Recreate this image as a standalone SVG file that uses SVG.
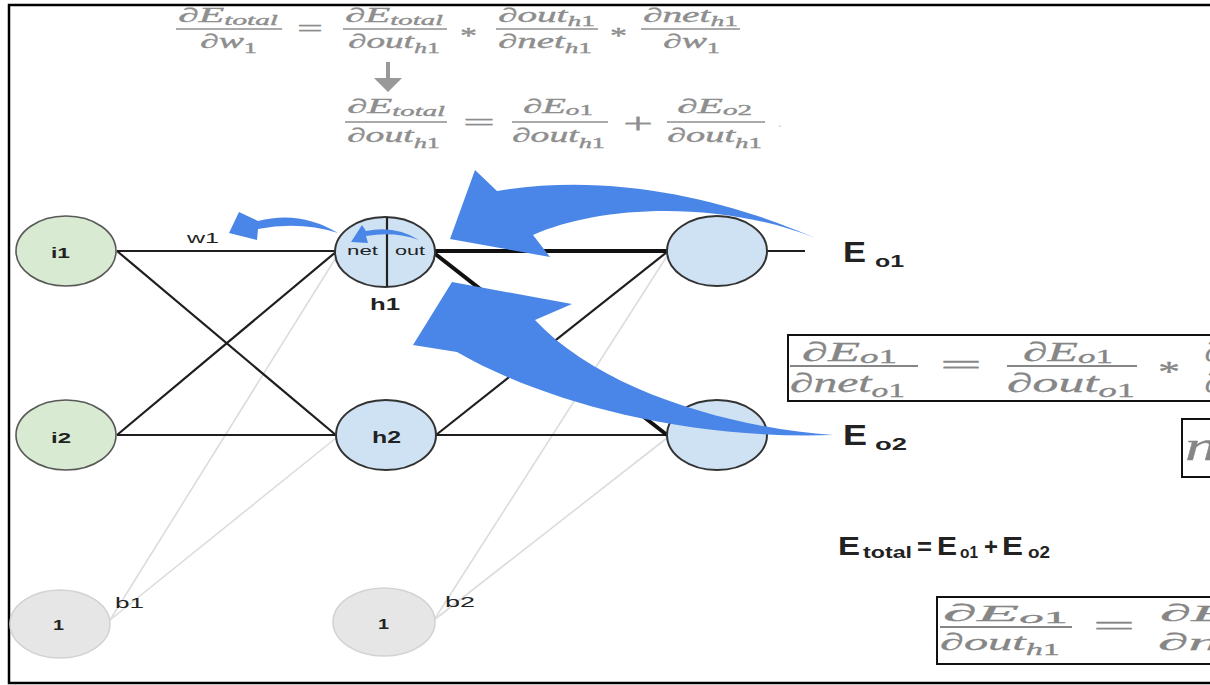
<svg xmlns="http://www.w3.org/2000/svg" width="1210" height="685" viewBox="0 0 1210 685">
  <style>
    .lbl { font-family: "Liberation Sans", Arial, sans-serif; fill: #222; }
    .b { font-weight: bold; }
    .m { font-family: "Liberation Serif", "Times New Roman", serif; font-style: italic; fill: #8e8e8e; stroke: #8e8e8e; stroke-width: 0.35; }
    .mb { font-family: "Liberation Serif", "Times New Roman", serif; font-style: italic; fill: #868686; stroke: #868686; stroke-width: 0.3; }
    .up { font-style: normal; }
    .bar { stroke: #8e8e8e; stroke-width: 1.6; }
    .barb { stroke: #868686; stroke-width: 1.8; }
    .edge { stroke: #1e1e1e; stroke-width: 2.2; fill: none; }
    .thick { stroke: #111; stroke-width: 4; fill: none; }
    .bias { stroke: #dcdcdc; stroke-width: 1.6; fill: none; }
    .inp { fill: #d9ead3; stroke: #595959; stroke-width: 1.6; }
    .hid { fill: #cfe2f3; stroke: #333; stroke-width: 2; }
    .one { fill: #e6e6e6; stroke: #d2d2d2; stroke-width: 1.5; }
    .blue { fill: #4a86e8; }
    .box { fill: none; stroke: #111; stroke-width: 2; }
  </style>

  <!-- outer frame -->
  <rect x="9" y="5" width="1230" height="678" fill="#fff" stroke="#000" stroke-width="2.5"/>

  <!-- connectors -->
  <g id="connectors">
    <line class="bias" x1="110" y1="620" x2="337" y2="256"/>
    <line class="bias" x1="110" y1="620" x2="336" y2="438"/>
    <line class="bias" x1="434" y1="620" x2="667" y2="256"/>
    <line class="bias" x1="434" y1="620" x2="667" y2="438"/>
    <line class="edge" x1="117" y1="251" x2="336" y2="251"/>
    <line class="edge" x1="117" y1="251" x2="337" y2="436"/>
    <line class="edge" x1="117" y1="435" x2="337" y2="251"/>
    <line class="edge" x1="117" y1="435" x2="336" y2="435"/>
    <line class="edge" x1="436" y1="435" x2="667" y2="252"/>
    <line class="edge" x1="436" y1="435" x2="667" y2="435"/>
    <line class="thick" x1="434" y1="251" x2="667" y2="251"/>
    <line class="thick" x1="434" y1="253" x2="667" y2="435"/>
    <line class="edge" x1="767" y1="251" x2="805" y2="251"/>
  </g>

  <!-- nodes -->
  <g id="node-i1">
    <ellipse class="inp" cx="66" cy="251" rx="50" ry="35"/>
    <text class="lbl b" x="51" y="258" font-size="15" textLength="19" lengthAdjust="spacingAndGlyphs">i1</text>
  </g>
  <g id="node-i2">
    <ellipse class="inp" cx="66" cy="435" rx="50" ry="35"/>
    <text class="lbl b" x="51" y="443" font-size="15" textLength="20" lengthAdjust="spacingAndGlyphs">i2</text>
  </g>
  <g id="node-h1">
    <ellipse class="hid" cx="385" cy="252" rx="50" ry="35"/>
    <line x1="387" y1="217" x2="387" y2="287" stroke="#222" stroke-width="2.2"/>
    <text class="lbl" x="347" y="255" font-size="12" fill="#333" textLength="31" lengthAdjust="spacingAndGlyphs">net</text>
    <text class="lbl" x="395" y="255" font-size="12" fill="#333" textLength="30" lengthAdjust="spacingAndGlyphs">out</text>
    <text class="lbl b" x="370" y="310" font-size="16" textLength="30" lengthAdjust="spacingAndGlyphs">h1</text>
  </g>
  <g id="node-h2">
    <ellipse class="hid" cx="386" cy="435" rx="50" ry="35"/>
    <text class="lbl b" x="372" y="443" font-size="16" textLength="29" lengthAdjust="spacingAndGlyphs">h2</text>
  </g>
  <g id="node-o1">
    <ellipse class="hid" cx="717" cy="251" rx="50" ry="35"/>
  </g>
  <g id="node-o2">
    <ellipse class="hid" cx="717" cy="435" rx="50" ry="35"/>
  </g>
  <g id="node-b1">
    <ellipse class="one" cx="60" cy="624" rx="50" ry="34"/>
    <text class="lbl b" x="53" y="630" font-size="15" textLength="11" lengthAdjust="spacingAndGlyphs">1</text>
    <text class="lbl" x="115" y="608" font-size="15" textLength="29" lengthAdjust="spacingAndGlyphs">b1</text>
  </g>
  <g id="node-b2">
    <ellipse class="one" cx="384" cy="622" rx="51" ry="34"/>
    <text class="lbl b" x="378" y="629" font-size="15" textLength="11" lengthAdjust="spacingAndGlyphs">1</text>
    <text class="lbl" x="445" y="607" font-size="15" textLength="30" lengthAdjust="spacingAndGlyphs">b2</text>
  </g>
  <g id="label-w1">
    <text class="lbl" x="187" y="243" font-size="14" fill="#333" textLength="32" lengthAdjust="spacingAndGlyphs">w1</text>
  </g>

  <!-- error labels -->
  <g id="label-eo1">
    <text class="lbl b" x="843" y="262" font-size="29" fill="#111" textLength="23" lengthAdjust="spacingAndGlyphs">E</text>
    <text class="lbl b" x="875" y="267" font-size="17" fill="#111" textLength="29" lengthAdjust="spacingAndGlyphs">o1</text>
  </g>
  <g id="label-eo2">
    <text class="lbl b" x="843" y="445" font-size="29" fill="#111" textLength="24" lengthAdjust="spacingAndGlyphs">E</text>
    <text class="lbl b" x="875" y="450" font-size="17" fill="#111" textLength="32" lengthAdjust="spacingAndGlyphs">o2</text>
  </g>
  <g id="label-etotal" class="lbl b" fill="#111">
    <text x="838" y="555" font-size="25" textLength="22" lengthAdjust="spacingAndGlyphs">E</text>
    <text x="863" y="558" font-size="17" textLength="49" lengthAdjust="spacingAndGlyphs">total</text>
    <text x="917" y="555" font-size="24" textLength="15" lengthAdjust="spacingAndGlyphs">=</text>
    <text x="937" y="555" font-size="25" textLength="20" lengthAdjust="spacingAndGlyphs">E</text>
    <text x="960" y="558" font-size="16" textLength="18" lengthAdjust="spacingAndGlyphs">o1</text>
    <text x="984" y="555" font-size="24" textLength="14" lengthAdjust="spacingAndGlyphs">+</text>
    <text x="1002" y="555" font-size="25" textLength="21" lengthAdjust="spacingAndGlyphs">E</text>
    <text x="1028" y="558" font-size="16" textLength="22" lengthAdjust="spacingAndGlyphs">o2</text>
  </g>

  <!-- chain rule for w1 -->
  <g id="formula-top">
    <text class="m" x="178" y="22" font-size="20" textLength="100" lengthAdjust="spacingAndGlyphs">∂E<tspan dy="3" font-size="14">total</tspan></text>
    <line class="bar" x1="176" y1="29" x2="282" y2="29"/>
    <text class="m" x="200" y="48" font-size="20" textLength="57" lengthAdjust="spacingAndGlyphs">∂w<tspan class="up" dy="5" font-size="14">1</tspan></text>
    <text class="m up" x="297" y="36" font-size="24" textLength="26" lengthAdjust="spacingAndGlyphs">=</text>
    <text class="m" x="345" y="22" font-size="20" textLength="98" lengthAdjust="spacingAndGlyphs">∂E<tspan dy="3" font-size="14">total</tspan></text>
    <line class="bar" x1="343" y1="29" x2="447" y2="29"/>
    <text class="m" x="348" y="48" font-size="20" textLength="92" lengthAdjust="spacingAndGlyphs">∂out<tspan dy="5" font-size="14">h</tspan><tspan class="up" font-size="14">1</tspan></text>
    <text class="m up" x="460" y="43" font-size="24" textLength="17" lengthAdjust="spacingAndGlyphs">*</text>
    <text class="m" x="498" y="22" font-size="20" textLength="97" lengthAdjust="spacingAndGlyphs">∂out<tspan dy="4" font-size="14">h</tspan><tspan class="up" font-size="14">1</tspan></text>
    <line class="bar" x1="496" y1="29" x2="598" y2="29"/>
    <text class="m" x="498" y="48" font-size="20" textLength="94" lengthAdjust="spacingAndGlyphs">∂net<tspan dy="5" font-size="14">h</tspan><tspan class="up" font-size="14">1</tspan></text>
    <text class="m up" x="610" y="43" font-size="24" textLength="17" lengthAdjust="spacingAndGlyphs">*</text>
    <text class="m" x="643" y="22" font-size="20" textLength="95" lengthAdjust="spacingAndGlyphs">∂net<tspan dy="4" font-size="14">h</tspan><tspan class="up" font-size="14">1</tspan></text>
    <line class="bar" x1="641" y1="29" x2="740" y2="29"/>
    <text class="m" x="663" y="48" font-size="20" textLength="57" lengthAdjust="spacingAndGlyphs">∂w<tspan class="up" dy="5" font-size="14">1</tspan></text>
    <!-- step arrow -->
    <path d="M386,62 H390 V78 H402 L388,92 L374,78 H386 Z" fill="#999"/>
  </g>

  <!-- split of dE_total / dout_h1 -->
  <g id="formula-split">
    <text class="m" x="347" y="113" font-size="20" textLength="98" lengthAdjust="spacingAndGlyphs">∂E<tspan dy="3" font-size="14">total</tspan></text>
    <line class="bar" x1="345" y1="122" x2="447" y2="122"/>
    <text class="m" x="347" y="142" font-size="20" textLength="93" lengthAdjust="spacingAndGlyphs">∂out<tspan dy="6" font-size="14">h</tspan><tspan class="up" font-size="14">1</tspan></text>
    <text class="m up" x="463" y="130" font-size="24" textLength="32" lengthAdjust="spacingAndGlyphs">=</text>
    <text class="m" x="523" y="113" font-size="20" textLength="70" lengthAdjust="spacingAndGlyphs">∂E<tspan dy="2" font-size="14">o</tspan><tspan class="up" font-size="14">1</tspan></text>
    <line class="bar" x1="512" y1="122" x2="608" y2="122"/>
    <text class="m" x="512" y="142" font-size="20" textLength="93" lengthAdjust="spacingAndGlyphs">∂out<tspan dy="6" font-size="14">h</tspan><tspan class="up" font-size="14">1</tspan></text>
    <text class="m up" x="623" y="133" font-size="30" textLength="30" lengthAdjust="spacingAndGlyphs">+</text>
    <text class="m" x="677" y="113" font-size="20" textLength="75" lengthAdjust="spacingAndGlyphs">∂E<tspan dy="2" font-size="14">o</tspan><tspan class="up" font-size="14">2</tspan></text>
    <line class="bar" x1="667" y1="122" x2="765" y2="122"/>
    <text class="m" x="667" y="142" font-size="20" textLength="95" lengthAdjust="spacingAndGlyphs">∂out<tspan dy="6" font-size="14">h</tspan><tspan class="up" font-size="14">1</tspan></text>
    <text class="up" x="778" y="127" font-size="14" font-family="Liberation Serif, serif" fill="#c8c8c8">.</text>
  </g>

  <!-- dE_o1 / dnet_o1 -->
  <g id="formula-box1">
    <rect class="box" x="788" y="335" width="440" height="66"/>
    <text class="mb" x="802" y="361" font-size="27" textLength="95" lengthAdjust="spacingAndGlyphs">∂E<tspan dy="2" font-size="19">o</tspan><tspan class="up" font-size="19">1</tspan></text>
    <line class="barb" x1="790" y1="366" x2="918" y2="366"/>
    <text class="mb" x="790" y="392" font-size="27" textLength="115" lengthAdjust="spacingAndGlyphs">∂net<tspan dy="5" font-size="19">o</tspan><tspan class="up" font-size="19">1</tspan></text>
    <text class="mb up" x="940" y="375" font-size="30" textLength="42" lengthAdjust="spacingAndGlyphs">=</text>
    <text class="mb" x="1023" y="361" font-size="27" textLength="90" lengthAdjust="spacingAndGlyphs">∂E<tspan dy="2" font-size="19">o</tspan><tspan class="up" font-size="19">1</tspan></text>
    <line class="barb" x1="1007" y1="366" x2="1137" y2="366"/>
    <text class="mb" x="1007" y="392" font-size="27" textLength="128" lengthAdjust="spacingAndGlyphs">∂out<tspan dy="5" font-size="19">o</tspan><tspan class="up" font-size="19">1</tspan></text>
    <text class="mb up" x="1158" y="381" font-size="30" textLength="22" lengthAdjust="spacingAndGlyphs">*</text>
    <text class="mb" x="1205" y="361" font-size="27">∂</text>
    <text class="mb" x="1205" y="392" font-size="27">∂</text>
  </g>

  <!-- net_o1 -->
  <g id="formula-box2">
    <rect class="box" x="1182" y="419" width="60" height="58"/>
    <text class="mb" x="1185" y="460" font-size="40" textLength="80" lengthAdjust="spacingAndGlyphs">net</text>
  </g>

  <!-- dE_o1 / dout_h1 -->
  <g id="formula-box3">
    <rect class="box" x="937" y="597" width="300" height="67"/>
    <text class="mb" x="943" y="621" font-size="24" textLength="125" lengthAdjust="spacingAndGlyphs">∂E<tspan dy="2" font-size="17">o</tspan><tspan class="up" font-size="17">1</tspan></text>
    <line class="barb" x1="940" y1="627" x2="1072" y2="627"/>
    <text class="mb" x="940" y="650" font-size="24" textLength="120" lengthAdjust="spacingAndGlyphs">∂out<tspan dy="5" font-size="17">h</tspan><tspan class="up" font-size="17">1</tspan></text>
    <text class="mb up" x="1093" y="635" font-size="28" textLength="42" lengthAdjust="spacingAndGlyphs">=</text>
    <text class="mb" x="1160" y="621" font-size="24" textLength="115" lengthAdjust="spacingAndGlyphs">∂E<tspan dy="2" font-size="17">o</tspan><tspan class="up" font-size="17">1</tspan></text>
    <text class="mb" x="1158" y="650" font-size="24" textLength="150" lengthAdjust="spacingAndGlyphs">∂net<tspan dy="5" font-size="17">o</tspan><tspan class="up" font-size="17">1</tspan></text>
  </g>

  <!-- backward-pass arrows -->
  <g id="arrows">
    <path class="blue" d="M815,238 C740,205 620,170 497,191 L475,170 L450,239 L550,257 L533,235 C600,205 720,200 815,238 Z"/>
    <path class="blue" d="M833,435 C730,428 600,390 535,320 L572,304 L452,282 L413,345 L457,352 C540,400 680,440 833,435 Z"/>
    <path class="blue" d="M338,233 Q300,210 258,221 L239,212 L229,233 L257,240 L258,229 Q300,221 338,233 Z"/>
    <path class="blue" d="M419,240 Q395,225 366,231 L362,225 L351,242 L368,243 L366,236 Q395,231 419,240 Z"/>
  </g>
</svg>
